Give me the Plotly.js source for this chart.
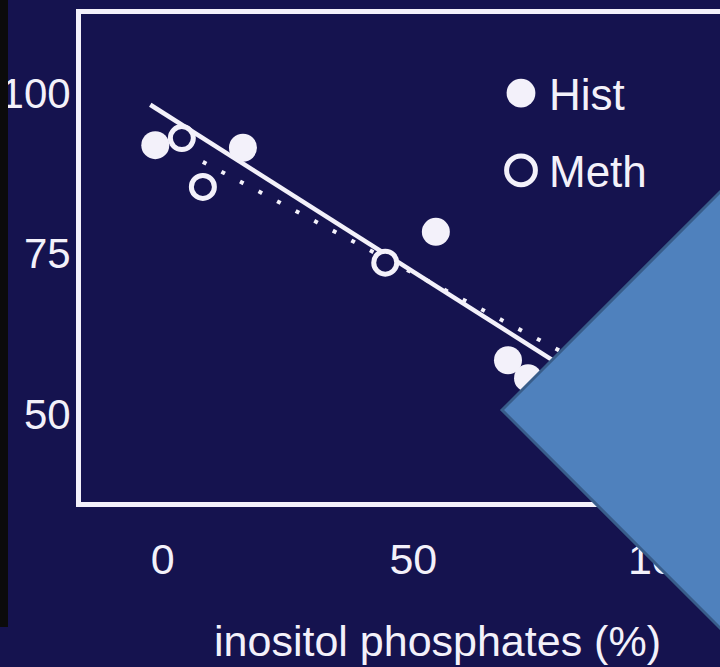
<!DOCTYPE html>
<html>
<head>
<meta charset="utf-8">
<script src="https://cdn.plot.ly/plotly-3.0.1.min.js"></script>
<style>
  html, body { margin: 0; padding: 0; background: #15134f; }
  #chart { width: 720px; height: 667px; }
</style>
</head>
<body>
<div id="chart"></div>
<script>
// ---- data ----
const xHist = [-1.5, 16.0, 54.5, 68.9, 72.9];
const yHist = [91.9, 91.5, 78.4, 58.4, 55.6];
const xMeth = [3.8, 8.0, 44.4];
const yMeth = [93.0, 85.4, 73.6];
const histFitX = [-2.5, 100];
const histFitY = [98.2, 47.4];
const methFitX = [8.0, 100];
const methFitY = [89.3, 51.3];
const xTickVals = [0, 50, 100];
const yTickVals = [50, 75, 100];
const xTitle = 'inositol phosphates (%)';

const BG = '#15134f';
const FG = '#f3f1fa';
const FONT = '"Liberation Sans", Arial, Helvetica, sans-serif';

const traces = [
  {
    x: histFitX, y: histFitY, mode: 'lines', name: 'Hist fit', showlegend: false,
    line: { color: FG, width: 4.5 }, hoverinfo: 'skip'
  },
  {
    x: methFitX, y: methFitY, mode: 'lines', name: 'Meth fit', showlegend: false,
    line: { color: FG, width: 4, dash: '4px,17px' }, hoverinfo: 'skip'
  },
  {
    x: xHist, y: yHist, mode: 'markers', name: 'Hist', legendgroup: 'h',
    marker: { symbol: 'circle', size: 28, color: FG, line: { width: 0 } }
  },
  {
    x: xMeth, y: yMeth, mode: 'markers', name: 'Meth', legendgroup: 'm',
    marker: { symbol: 'circle', size: 23, color: BG, line: { width: 5, color: FG } }
  }
];

// paper coordinates helpers (plot area: px x 81..720, y 14..502)
const L = 81, R = 720, T = 14, B = 502;
const px = v => (v - L) / (R - L);
const py = v => (B - v) / (B - T);
const X0 = 162.8, XS = 5.01;   // pixel of x=0, pixels per x unit
const Y75 = 253.67, YS = 6.42; // pixel of y=75, pixels per y unit

const layout = {
  width: 720, height: 667,
  margin: { l: L, r: 720 - R, t: T, b: 667 - B, pad: 0 },
  paper_bgcolor: BG, plot_bgcolor: BG,
  font: { family: FONT, color: FG, size: 43 },
  showlegend: true,
  legend: {
    x: px(493), y: py(58), xanchor: 'left', yanchor: 'top',
    bgcolor: 'rgba(0,0,0,0)', borderwidth: 0,
    font: { family: FONT, size: 44, color: FG },
    itemwidth: 46, traceorder: 'grouped', tracegroupgap: 17
  },
  xaxis: {
    range: [(L - X0) / XS, (R - X0) / XS],
    tickvals: xTickVals, ticktext: xTickVals.map(String),
    ticks: 'outside', ticklen: 15, tickcolor: 'rgba(0,0,0,0)',
    showgrid: false, zeroline: false,
    showline: true, linecolor: FG, linewidth: 5, mirror: true,
    tickfont: { family: FONT, size: 43, color: FG }
  },
  yaxis: {
    range: [75 - (B - Y75) / YS, 75 + (Y75 - T) / YS],
    tickvals: yTickVals, ticktext: yTickVals.map(String),
    ticks: '', ticklabelstandoff: -3,
    showgrid: false, zeroline: false,
    showline: true, linecolor: FG, linewidth: 5, mirror: false,
    tickfont: { family: FONT, size: 42, color: FG }
  },
  annotations: [
    {
      text: xTitle, xref: 'paper', yref: 'paper',
      x: px(437), y: py(641), xanchor: 'center', yanchor: 'middle',
      showarrow: false, font: { family: FONT, size: 43, color: FG }
    }
  ],
  shapes: [
    { // black strip at the left edge
      type: 'rect', xref: 'paper', yref: 'paper', layer: 'above',
      x0: px(-5), x1: px(8), y0: py(627), y1: py(-5),
      fillcolor: '#0b0b0b', line: { width: 0 }
    },
    { // blue overlay triangle
      type: 'path', xref: 'paper', yref: 'paper', layer: 'above',
      path: 'M ' + px(502) + ',' + py(410) + ' L ' + px(770) + ',' + py(142) +
            ' L ' + px(770) + ',' + py(678) + ' Z',
      fillcolor: '#4f81bd', line: { color: '#385d8a', width: 3 }
    }
  ]
};

Plotly.newPlot('chart', traces, layout, { displayModeBar: false, staticPlot: true }).then(() => {
  document.querySelectorAll('#chart .legend .legendpoints path.scatterpts').forEach(p => {
    const t = p.getAttribute('transform') || '';
    p.setAttribute('transform', t + ' scale(1.8)');
    p.style.vectorEffect = 'non-scaling-stroke';
  });
});
</script>
</body>
</html>
